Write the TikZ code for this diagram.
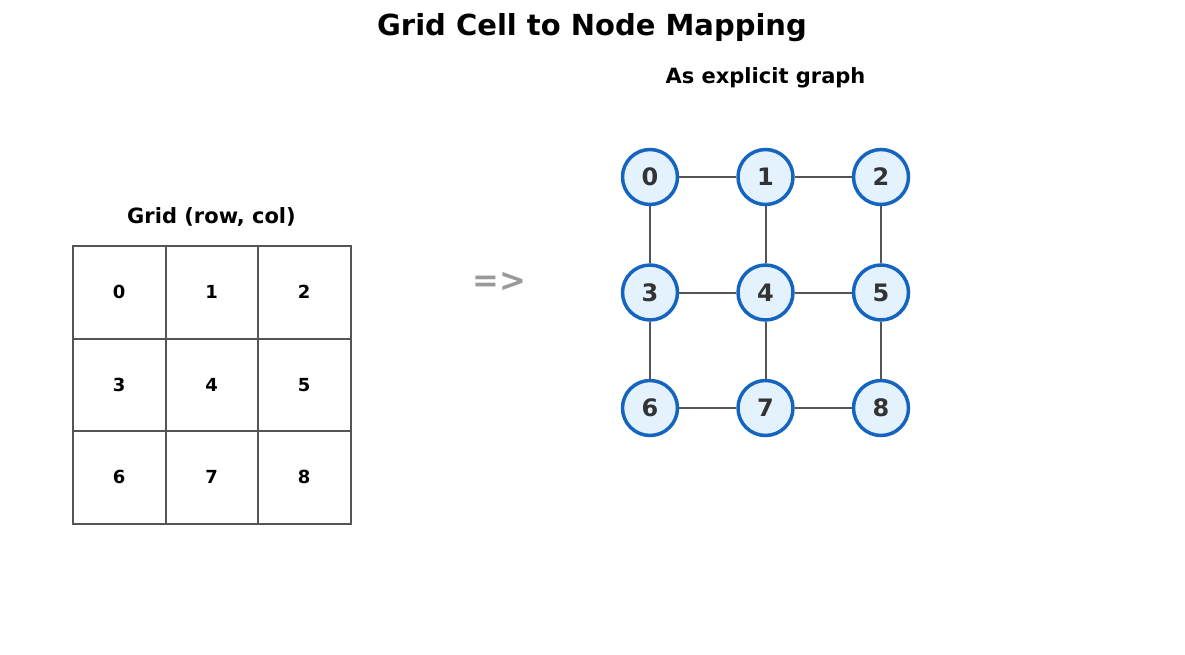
\documentclass[tikz,border=0pt]{standalone}
\usepackage{fontspec}
\setmainfont{DejaVu Sans}
\begin{document}
\begin{tikzpicture}[x=1pt,y=-1pt,
  nd/.style={circle,draw=nblue,fill=nfill,line width=3.5pt,minimum size=55pt,inner sep=0pt,text=ntext,font=\fontsize{24}{28}\selectfont\bfseries},
  ed/.style={draw=egray,line width=2pt},
  cell/.style={font=\fontsize{18}{21}\selectfont\bfseries}]
\definecolor{nblue}{HTML}{1565C0}
\definecolor{nfill}{HTML}{E3F2FD}
\definecolor{ntext}{HTML}{333333}
\definecolor{egray}{HTML}{555555}
\useasboundingbox (0,0) rectangle (1185,654);
\node (title) at (592,28) {\fontsize{29}{34}\selectfont\bfseries Grid Cell to Node Mapping};
\node (gt) at (211.5,217) {\fontsize{21}{25}\selectfont\bfseries Grid (row, col)};
\node (st) at (765.5,78) {\fontsize{21}{25}\selectfont\bfseries As explicit graph};
\foreach \i in {0,1,2,3}{
  \draw[egray,line width=2pt] (73+92.5*\i,246) -- (73+92.5*\i,523.5);
  \draw[egray,line width=2pt] (73,246+92.5*\i) -- (350.5,246+92.5*\i);}
\draw[egray,line width=2pt] (73,246) rectangle (350.5,523.5);
\foreach \r in {0,1,2}{\foreach \c in {0,1,2}{
  \pgfmathtruncatemacro\k{3*\r+\c}
  \node[cell] (c\k) at (119.25+92.5*\c,292.25+92.5*\r) {\k};}}
\node[text=gray!80,font=\fontsize{32}{36}\selectfont\bfseries] (arr) at (499,282) {=>};
\foreach \r in {0,1,2}{\foreach \c in {0,1,2}{
  \pgfmathtruncatemacro\k{3*\r+\c}
  \node[nd] (n\k) at (650+115.5*\c,177+115.5*\r) {\k};}}
\foreach \a/\b in {0/1,1/2,3/4,4/5,6/7,7/8,0/3,3/6,1/4,4/7,2/5,5/8}
  \draw[ed] (n\a) -- (n\b);
\end{tikzpicture}
\end{document}
